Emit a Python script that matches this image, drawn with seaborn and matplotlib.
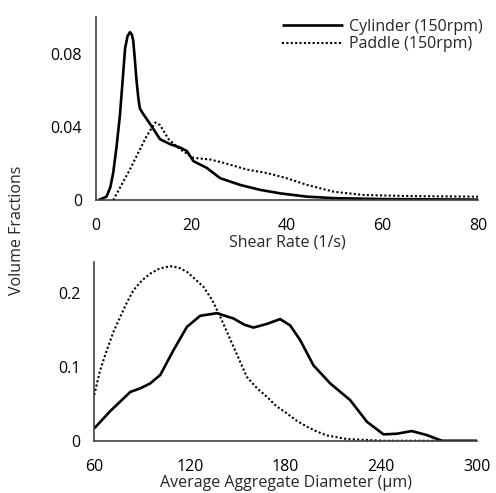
import matplotlib
matplotlib.use("Agg")
from matplotlib import pyplot as plt
import seaborn as sns
import pandas as pd

# top panel: shear rate distribution
shear_cyl_x = [0.5, 2.2, 3.0, 3.6, 4.3, 5.0, 5.6, 6.1, 6.6, 7.1, 7.5, 7.8, 8.1, 8.5, 8.9, 9.2,
               9.9, 11.3, 13.4, 15.5, 17.6, 19.0, 20.4, 23.2, 26.0, 30.2, 34.4, 38.6, 44.2,
               49.8, 59.6, 80.0]
shear_cyl_y = [0.0, 0.0019, 0.007, 0.0148, 0.029, 0.046, 0.066, 0.083, 0.0895, 0.0917, 0.0905,
               0.087, 0.078, 0.065, 0.055, 0.050, 0.047, 0.0417, 0.0333, 0.0306, 0.0287,
               0.0269, 0.0213, 0.0176, 0.012, 0.0083, 0.0056, 0.0037, 0.0019, 0.0011, 0.0006,
               0.0003]
shear_pad_x = [3.6, 7.1, 10.6, 12.4, 13.4, 15.2, 17.6, 20.4, 23.9, 26.7, 31.6, 35.8, 39.9,
               44.2, 49.8, 56.1, 66.5, 80.0]
shear_pad_y = [0.0, 0.0167, 0.035, 0.0424, 0.041, 0.0333, 0.0278, 0.0231, 0.0222, 0.0204,
               0.0167, 0.0148, 0.012, 0.0083, 0.0046, 0.0028, 0.0022, 0.0019]

# bottom panel: aggregate diameter distribution
diam_cyl_x = [60, 70, 82.6, 89, 95.1, 101.4, 109.7, 118.1, 126.4, 136.9, 147.3, 154, 159.8,
              168.2, 176.5, 182.8, 189.1, 197.4, 207.9, 220.4, 230.9, 241.3, 249.7, 259.0,
              268.4, 277.8, 300]
diam_cyl_y = [0.0167, 0.040, 0.066, 0.071, 0.0775, 0.089, 0.1226, 0.154, 0.169, 0.1725, 0.1653,
              0.157, 0.153, 0.158, 0.1645, 0.156, 0.136, 0.102, 0.0775, 0.055, 0.0257, 0.0086,
              0.0095, 0.0131, 0.0077, 0.0, 0.0]
diam_pad_x = [60, 63.5, 67.9, 72, 76.3, 80.5, 84.6, 90, 95.1, 101, 107.6, 113, 118.1, 123,
              128.5, 134, 139.0, 147.3, 155.6, 162, 168.2, 174, 180.7, 187, 193.3, 200, 205.8,
              218.3, 241.3, 278]
diam_pad_y = [0.0618, 0.094, 0.1226, 0.147, 0.1676, 0.187, 0.2036, 0.217, 0.226, 0.233, 0.236,
              0.234, 0.2284, 0.219, 0.208, 0.19, 0.1676, 0.127, 0.0865, 0.071, 0.0595, 0.047,
              0.037, 0.027, 0.019, 0.012, 0.0072, 0.0023, 0.0, 0.0]

labels = ['Cylinder (150rpm)', 'Paddle (150rpm)']

sns.set_style('white')
plt.rcParams['font.family'] = ['Open Sans', 'DejaVu Sans']
fs = 11.5

top = pd.concat([
    pd.DataFrame({'x': shear_cyl_x, 'y': shear_cyl_y, 'series': labels[0]}),
    pd.DataFrame({'x': shear_pad_x, 'y': shear_pad_y, 'series': labels[1]}),
])
bottom = pd.concat([
    pd.DataFrame({'x': diam_cyl_x, 'y': diam_cyl_y, 'series': labels[0]}),
    pd.DataFrame({'x': diam_pad_x, 'y': diam_pad_y, 'series': labels[1]}),
])

fig = plt.figure(figsize=(4.96, 4.93), dpi=100)
ax1 = fig.add_axes([0.1935, 0.594, 0.7705, 0.3715])
ax2 = fig.add_axes([0.19, 0.106, 0.772, 0.363])

styles = {labels[0]: (0, ()), labels[1]: (0, (1, 1.1))}
for ax, df in [(ax1, top), (ax2, bottom)]:
    for name in labels:
        d = df[df['series'] == name]
        sns.lineplot(data=d, x='x', y='y', ax=ax, color='black',
                     linewidth=1.9 if name == labels[0] else 1.5,
                     linestyle=styles[name], label=name, legend=False)
        ax.lines[-1].set_solid_joinstyle('round')
    for s in ['top', 'right']:
        ax.spines[s].set_visible(False)
    for s in ['left', 'bottom']:
        ax.spines[s].set_color('#404040')
        ax.spines[s].set_linewidth(1.2)
    ax.tick_params(length=0, labelsize=fs, colors='black')
    ax.tick_params(axis='x', pad=13)
    ax.tick_params(axis='y', pad=10)
    ax.set_ylabel('')

ax1.set_xlim(0, 80)
ax1.set_ylim(0, 0.1)
ax1.set_xticks([0, 20, 40, 60, 80])
ax1.set_yticks([0, 0.04, 0.08])
ax1.set_yticklabels(['0', '0.04', '0.08'])
ax1.set_xlabel('Shear Rate (1/s)', fontsize=fs, labelpad=0)
ax1.legend(loc='upper right', bbox_to_anchor=(1.05, 1.07), frameon=False, fontsize=fs,
           handlelength=3.8, handletextpad=0.4, labelspacing=0.1)

ax2.set_xlim(60, 300)
ax2.set_ylim(0, 0.242)
ax2.set_xticks([60, 120, 180, 240, 300])
ax2.set_yticks([0, 0.1, 0.2])
ax2.set_yticklabels(['0', '0.1', '0.2'])
ax2.set_xlabel('Average Aggregate Diameter (µm)', fontsize=fs, labelpad=0)

fig.text(0.035, 0.533, 'Volume Fractions', rotation=90, va='center', ha='center', fontsize=fs)

fig.savefig('out.png', dpi=100)
